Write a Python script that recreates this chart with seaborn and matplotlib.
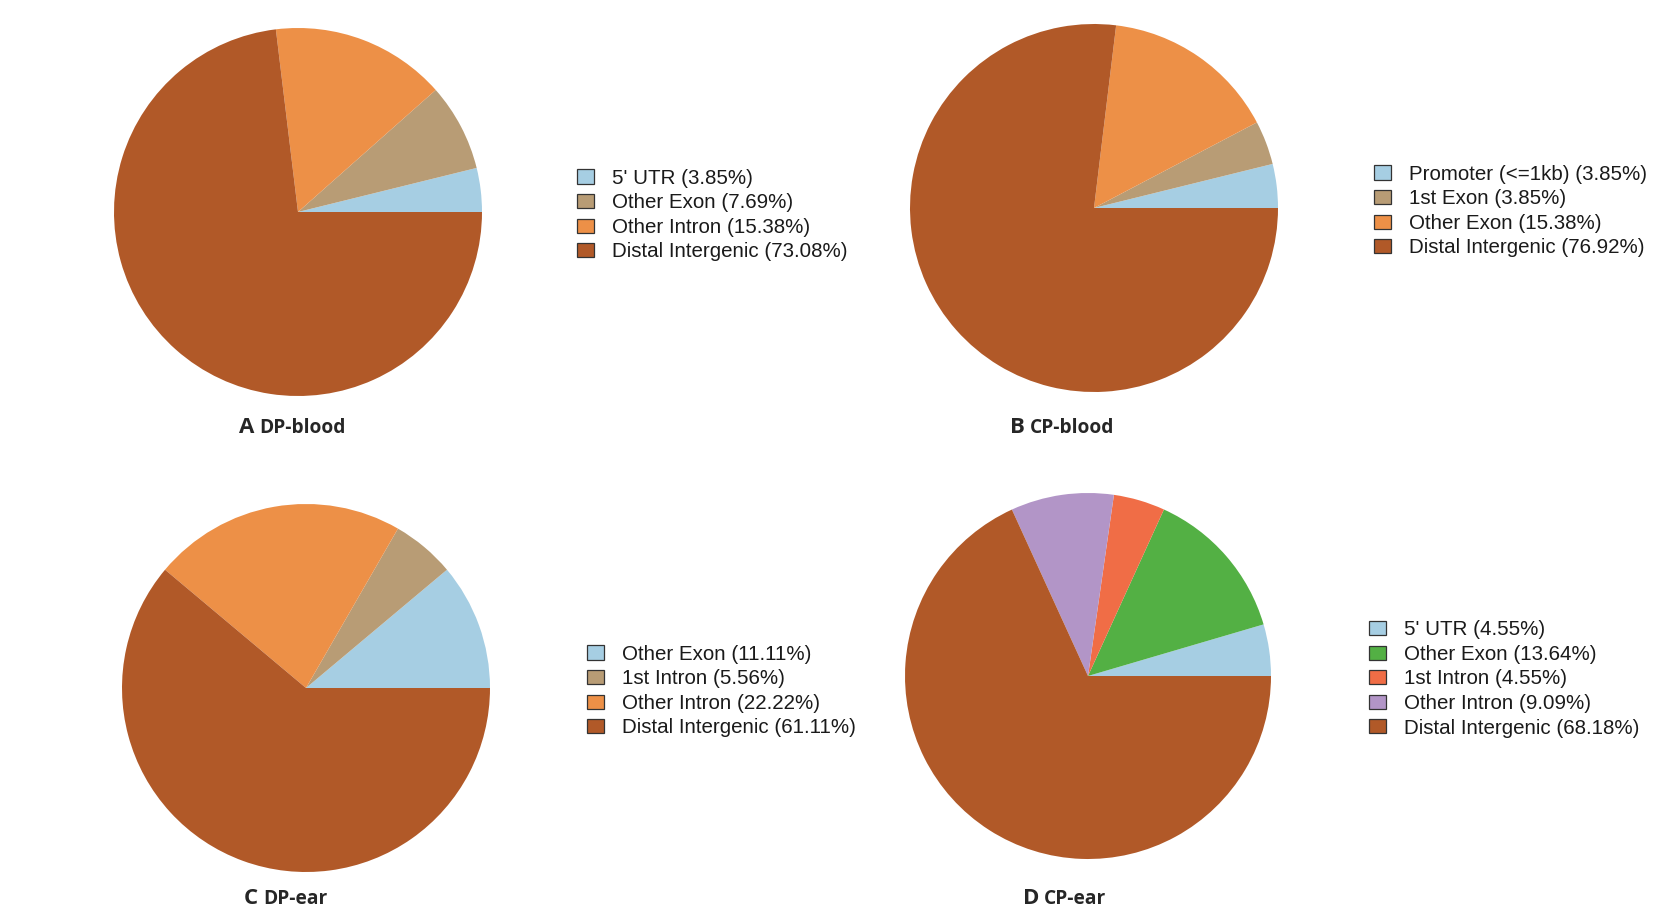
import numpy as np
import matplotlib.pyplot as plt
import seaborn as sns
from matplotlib.patches import Patch

W, H = 1654, 914

labels_a = ["5' UTR", "Other Exon", "Other Intron", "Distal Intergenic"]
pct_a = [3.85, 7.69, 15.38, 73.08]
labels_b = ["Promoter (<=1kb)", "1st Exon", "Other Exon", "Distal Intergenic"]
pct_b = [3.85, 3.85, 15.38, 76.92]
labels_c = ["Other Exon", "1st Intron", "Other Intron", "Distal Intergenic"]
pct_c = [11.11, 5.56, 22.22, 61.11]
labels_d = ["5' UTR", "Other Exon", "1st Intron", "Other Intron", "Distal Intergenic"]
pct_d = [4.55, 13.64, 4.55, 9.09, 68.18]
panel_letters = ["A", "B", "C", "D"]
panel_names = ["DP-blood", "CP-blood", "DP-ear", "CP-ear"]

sns.set_theme(style="white")
plt.rcParams['font.family'] = ['Liberation Sans', 'DejaVu Sans']


def ramp(n):
    # colours spread evenly over the Paired palette (like R colorRampPalette)
    base = np.array(sns.color_palette("Paired", 12))
    pos = np.linspace(0, 11, n)
    return [tuple(np.interp(p, np.arange(12), base[:, k]) for k in range(3)) for p in pos]


fig = plt.figure(figsize=(W / 100, H / 100), dpi=100)
fig.patch.set_facecolor('white')

# pie (cx, cy, r) in pixels, legend left/centre, letter right edge, label baseline
layout = [
    ((298, 212, 184), (577, 215), 254, 433),
    ((1094, 208, 184), (1374, 211), 1025, 433),
    ((306, 688, 184), (587, 691), 258, 904),
    ((1088, 676, 183), (1369, 679), 1039, 904),
]
data = [(labels_a, pct_a), (labels_b, pct_b), (labels_c, pct_c), (labels_d, pct_d)]

for (labs, vals), (pie, leg, lx, base), letter, name in zip(data, layout, panel_letters, panel_names):
    cx, cy, r = pie
    cols = ramp(len(vals))
    ax = fig.add_axes([(cx - r) / W, (H - cy - r) / H, 2 * r / W, 2 * r / H])
    ax.pie(vals, colors=cols, startangle=0, counterclock=True, radius=1,
           wedgeprops=dict(linewidth=0))
    ax.set_xlim(-1, 1)
    ax.set_ylim(-1, 1)
    ax.axis('off')

    handles = [Patch(facecolor=c, edgecolor='#333333', linewidth=0.9) for c in cols]
    texts = [f"{l} ({v:.2f}%)" for l, v in zip(labs, vals)]
    fig.legend(handles, texts, loc='center left', bbox_to_anchor=(leg[0] / W, 1 - leg[1] / H),
               frameon=False, fontsize=14.8, handlelength=0.82, handleheight=0.68,
               handletextpad=0.87, labelspacing=0.27, borderpad=0, borderaxespad=0,
               labelcolor='#1a1a1a')

    fig.text(lx / W, 1 - base / H, letter, ha='right', va='baseline', fontsize=16,
             fontweight='bold', family=['Open Sans', 'DejaVu Sans'])
    fig.text((lx + 5) / W, 1 - base / H, name, ha='left', va='baseline', fontsize=13.8,
             fontweight='bold', family=['Open Sans', 'DejaVu Sans'])

fig.savefig('out.png', dpi=100, facecolor='white')
